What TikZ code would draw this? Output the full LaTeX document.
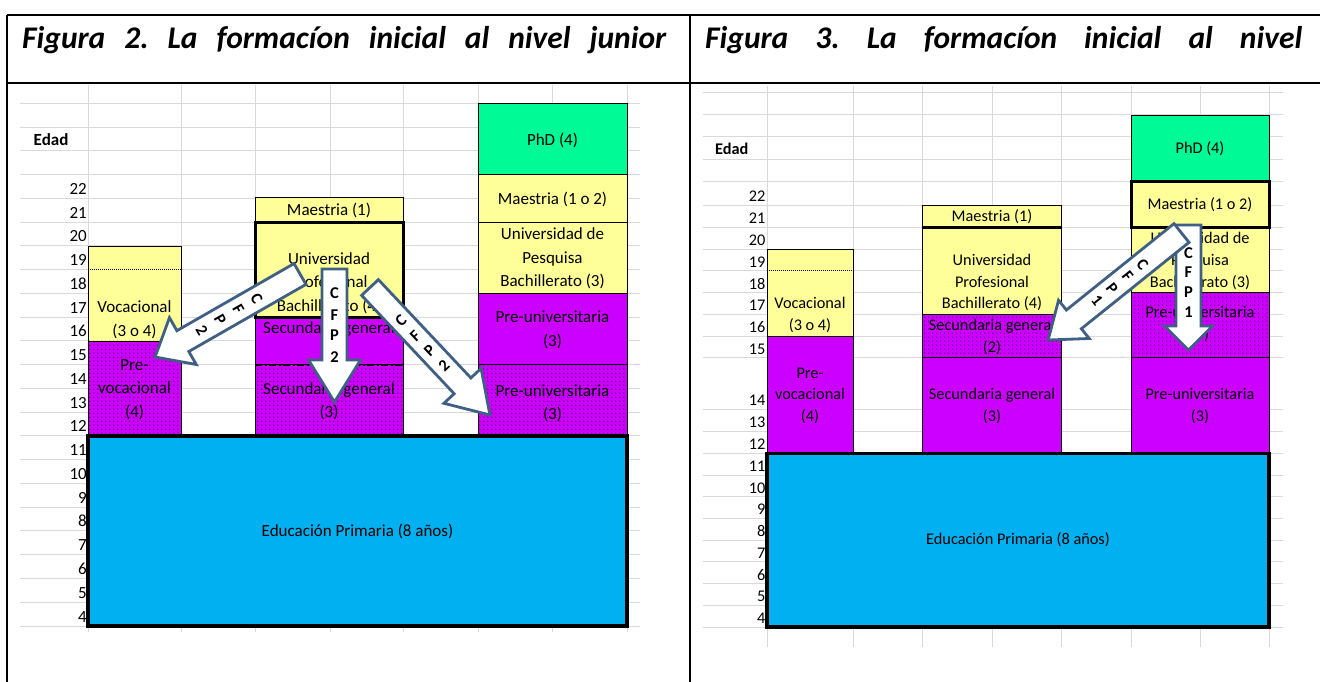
\documentclass[tikz,border=0pt]{standalone}
\usepackage{fontspec}
\setmainfont{Carlito}
\usetikzlibrary{patterns,patterns.meta}
\definecolor{cyel}{HTML}{FFFF99}
\definecolor{cpur}{HTML}{CC00FF}
\definecolor{cgrn}{HTML}{00FA96}
\definecolor{cblu}{HTML}{00B0F0}
\definecolor{cgrid}{HTML}{D9D9D9}
\definecolor{carr}{HTML}{3F5F85}
\tikzdeclarepattern{name=mydots,type=uncolored,bounding box={(0pt,0pt) and (4.2pt,4.2pt)},tile size={(4.2pt,4.2pt)},code={\pgfpathcircle{\pgfqpoint{2.1pt}{2.1pt}}{0.6pt}\pgfusepath{fill}}}
\newcommand\blockarr[7]{% tail x, tail y, angle, length, shaft, head width, head length
  \begin{scope}[shift={(#1,#2)}, rotate=#3]
    \draw[arrowshape] (0,{-#5/2}) -- ({#4-#7},{-#5/2}) -- ({#4-#7},{-#6/2}) -- (#4,0) -- ({#4-#7},{#6/2}) -- ({#4-#7},{#5/2}) -- (0,{#5/2}) -- cycle;
  \end{scope}}
\newcommand\arrletters[9]{% prefix, tail x, tail y, angle, u1,u2,u3,u4, digit
  \begin{scope}[shift={(#2,#3)}, rotate=#4]
    \node[arrtxt, rotate={#4+90}] (#1c) at (#5,0) {C};
    \node[arrtxt, rotate={#4+90}] (#1f) at (#6,0) {F};
    \node[arrtxt, rotate={#4+90}] (#1p) at (#7,0) {P};
    \node[arrtxt, rotate={#4+90}] (#1n) at (#8,0) {#9};
  \end{scope}}
\begin{document}
\begin{tikzpicture}[x=1pt,y=-1pt,
  grid/.style={draw=cgrid, line width=1pt},
  cellY/.style={fill=cyel, draw=black, line width=0.8pt},
  cellP/.style={fill=cpur, draw=black, line width=0.8pt},
  cellD/.style={fill=cpur, postaction={pattern=mydots, pattern color=black}, postaction={draw=black, line width=0.8pt}},
  cellG/.style={fill=cgrn, draw=black, line width=0.8pt},
  cellB/.style={fill=cblu, draw=black, line width=3.5pt},
  thickbox/.style={draw=black, line width=3pt},
  frame/.style={draw=black, line width=2.6pt},
  ltx/.style={font=\fontsize{17}{23.5}\selectfont, align=center, inner sep=0pt},
  rtx/.style={font=\fontsize{16.3}{21.8}\selectfont, align=center, inner sep=0pt},
  lage/.style={font=\fontsize{17}{17}\selectfont, anchor=base east, inner sep=0pt},
  rage/.style={font=\fontsize{16.3}{16.3}\selectfont, anchor=base east, inner sep=0pt},
  hdr/.style={font=\fontsize{31.5}{36}\selectfont\bfseries\itshape, anchor=base west, inner sep=0pt},
  arrowshape/.style={fill=white, draw=carr, line width=2.8pt, line join=miter},
  arrtxt/.style={font=\fontsize{16.5}{16.5}\selectfont\bfseries, inner sep=0pt},
]
\useasboundingbox (0,0) rectangle (1320,682);
\fill[white] (0,0) rectangle (1320,682);

% ---------- left chart grid ----------
\foreach \k in {0,...,22} \draw[grid] (20,{103.3+23.76*\k}) -- (640,{103.3+23.76*\k});
\foreach \xx in {88,181,255,330,403,478,552,627} \draw[grid] (\xx,85) -- (\xx,632);
% ---------- right chart grid ----------
\foreach \yy in {92.5,115,136.7,159.3,181.7,205,227.3,249.3,270.7,292.7,314.3,336,357.7,409.3,431,453.3,475,496.7,518.4,540.1,561.8,583.5,605.2,627}
  \draw[grid] (703,\yy) -- (1283,\yy);
\foreach \xx in {767,853,922.7,992,1061,1131,1200,1269} \draw[grid] (\xx,86) -- (\xx,647);

% ---------- left chart labels ----------
\node[font=\fontsize{17}{17}\selectfont\bfseries, anchor=base west, inner sep=0pt] (ledad) at (33.5,145.5) {Edad};
\foreach \a [count=\i from 4] in {22,21,...,4}
  \node[lage] (la\a) at (87,{103.3+23.76*\i-4}) {\a};
% ---------- right chart labels ----------
\node[font=\fontsize{16.3}{16.3}\selectfont\bfseries, anchor=base west, inner sep=0pt] (redad) at (715,154.5) {Edad};
\foreach \a/\yb in {22/205,21/227.3,20/249.3,19/270.7,18/292.7,17/314.3,16/336,15/357.7,14/409.3,13/431,12/453.3,11/475,10/496.7,9/518.4,8/540.1,7/561.8,6/583.5,5/605.2,4/627}
  \node[rage] (ra\a) at (765.5,{\yb-3.5}) {\a};

% ---------- left chart cells ----------
\path[cellY] (88,245.9) rectangle (181,340.9);
\draw[black, line width=0.7pt, dash pattern=on 0.8pt off 1.2pt] (88,269.6) -- (181,269.6);
\path[cellD] (88,340.9) rectangle (181,436);
\path[cellY] (255,197.3) rectangle (403,222.1);
\path[cellY] (255,222.1) rectangle (403,317.1);
\path[cellP] (255,317.1) rectangle (403,364.7);
\path[cellD] (255,364.7) rectangle (403,436);
\draw[black, line width=2.2pt, dash pattern=on 7pt off 2.5pt on 2pt off 2.5pt] (255,364.7) -- (403,364.7);
\path[thickbox] (255,222.1) rectangle (403,317.1);
\path[cellG] (478,103.3) rectangle (627,174.6);
\path[cellY] (478,174.6) rectangle (627,222.1);
\path[cellY] (478,222.1) rectangle (627,293.4);
\path[cellP] (478,293.4) rectangle (627,364.7);
\path[cellD] (478,364.7) rectangle (627,436);
\path[cellB] (88,436) rectangle (627,626);

% left chart texts
\node[ltx] (l1a) at (134.5,320) {Vocacional\\(3 o 4)};
\node[ltx] (l1b) at (134.5,389.5) {Pre-\\vocacional\\(4)};
\node[ltx] (l2a) at (329,210) {Maestria (1)};
\node[ltx] (l2b) at (329,283) {Universidad\\Profesional\\Bachillerato (4)};
\node[ltx] (l2c) at (329,329) {Secundaria general};
\node[ltx] (l2d) at (329,401.5) {Secundaria general\\(3)};
\node[ltx] (l3a) at (552.5,140) {PhD (4)};
\node[ltx] (l3b) at (552.5,199.5) {Maestria (1 o 2)};
\node[ltx] (l3c) at (552.5,258.3) {Universidad de\\Pesquisa\\Bachillerato (3)};
\node[ltx] (l3d) at (552.5,330) {Pre-universitaria\\(3)};
\node[ltx] (l3e) at (552.5,403.5) {Pre-universitaria\\(3)};
\node[ltx] (lprim) at (357.5,531) {Educación Primaria (8 años)};

% ---------- right chart cells ----------
\path[cellY] (767,249.3) rectangle (853,336);
\draw[black, line width=0.7pt, dash pattern=on 0.8pt off 1.2pt] (767,270.7) -- (853,270.7);
\path[cellP] (767,336) rectangle (853,453.3);
\path[cellY] (922.7,205) rectangle (1061,227.3);
\path[cellY] (922.7,227.3) rectangle (1061,314.3);
\path[cellD] (922.7,314.3) rectangle (1061,357.7);
\path[cellP] (922.7,357.7) rectangle (1061,453.3);
\draw[black, line width=3pt] (922.7,227.3) -- (1061,227.3);
\path[cellG] (1131,115) rectangle (1269,181.7);
\path[cellY] (1131,227.3) rectangle (1269,292.7);
\path[cellD] (1131,292.7) rectangle (1269,357.7);
\path[cellP] (1131,357.7) rectangle (1269,453.3);
\path[cellY, thickbox] (1131,181.7) rectangle (1269,227.3);
\path[cellB] (767,453.3) rectangle (1269,627);

% right chart texts
\node[rtx] (r1a) at (810,315.3) {Vocacional\\(3 o 4)};
\node[rtx] (r1b) at (810,395.7) {Pre-\\vocacional\\(4)};
\node[rtx] (r2a) at (992,216.7) {Maestria (1)};
\node[rtx] (r2b) at (992,282.6) {Universidad\\Profesional\\Bachillerato (4)};
\node[rtx] (r2c) at (992,337) {Secundaria general\\(2)};
\node[rtx] (r2d) at (992,406.3) {Secundaria general\\(3)};
\node[rtx] (r3a) at (1200,148.3) {PhD (4)};
\node[rtx] (r3b) at (1200,205) {Maestria (1 o 2)};
\node[rtx] (r3c) at (1200,261) {Universidad de\\Pesquisa\\Bachillerato (3)};
\node[rtx] (r3d) at (1200,324.2) {Pre-universitaria\\(3)};
\node[rtx] (r3e) at (1200,406) {Pre-universitaria\\(3)};
\node[rtx] (rprim) at (1018,540) {Educación Primaria (8 años)};

% ---------- arrows, left chart ----------
\blockarr{334.5}{269}{-90}{133}{25}{52}{42}
\arrletters{a2}{334.5}{269}{-90}{24}{46}{66}{88}{2}
\blockarr{300}{274}{209.8}{167}{24}{54}{32}
\arrletters{a1}{300}{274}{209.8}{50}{71}{92}{113}{2}
\blockarr{370}{287.5}{-46.75}{175}{23}{51}{40}
\arrletters{a3}{370}{287.5}{-46.75}{45}{66}{87}{108}{2}
% ---------- arrows, right chart ----------
\blockarr{1188.5}{225}{-90}{125}{25}{48}{24}
\arrletters{a4}{1188.5}{225}{-90}{28}{47.5}{67}{86.7}{1}
\blockarr{1181.5}{233}{218.75}{171}{24}{49}{33}
\arrletters{a5}{1181.5}{233}{218.75}{50}{69}{89}{108}{1}

% ---------- table frame ----------
\draw[frame] (7,15) -- (1320,15);
\draw[frame] (7,83) -- (1320,83);
\draw[frame] (7,15) -- (7,682);
\draw[frame] (690,15) -- (690,682);

% ---------- headers ----------
\node[hdr] (h2) at (22,48.5) {\hbox to 644pt{Figura\hfill 2.\hfill La\hfill formacíon\hfill inicial\hfill al\hfill nivel\hfill junior}};
\node[hdr] (h3) at (705,48.5) {\hbox to 597pt{Figura\hfill 3.\hfill La\hfill formacíon\hfill inicial\hfill al\hfill nivel}};
\end{tikzpicture}
\end{document}
